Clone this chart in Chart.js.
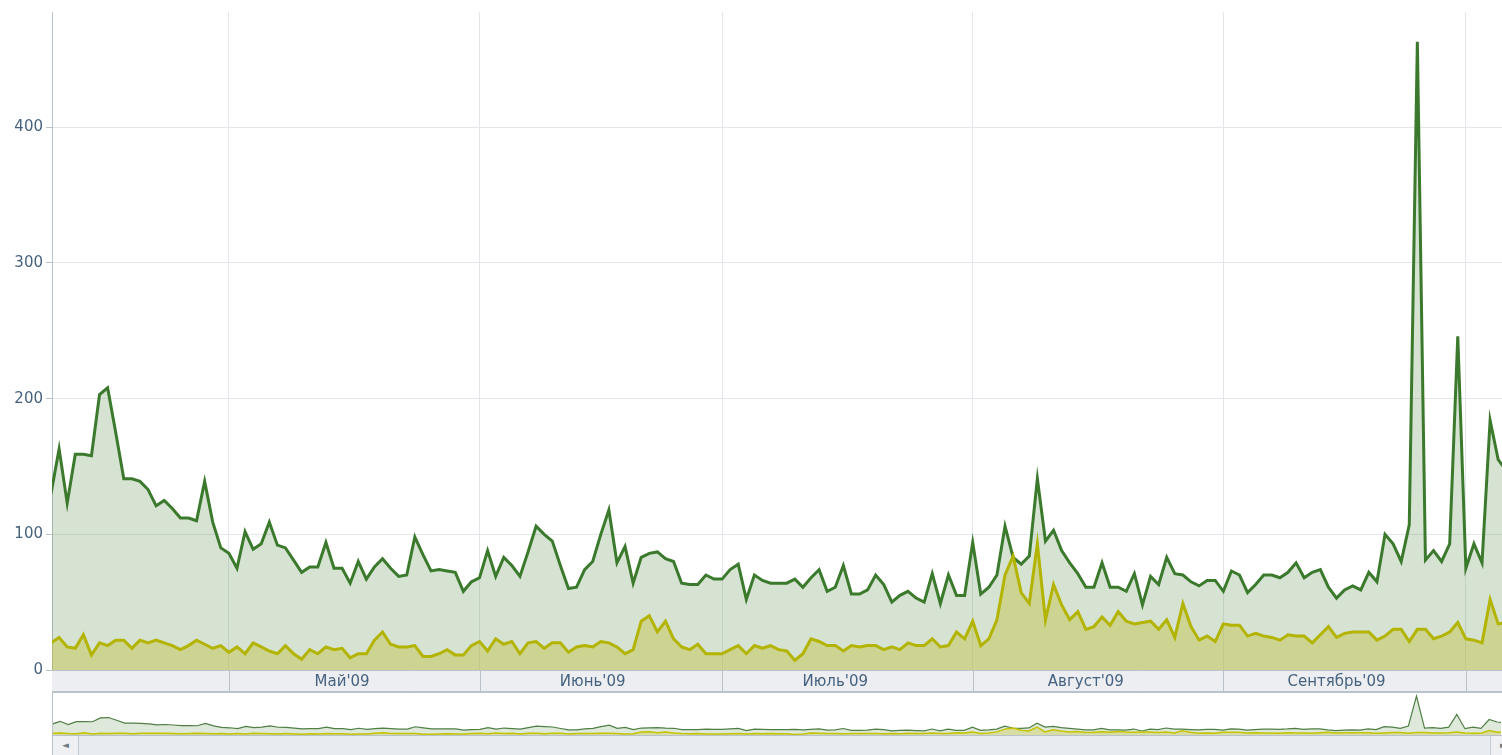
<!DOCTYPE html>
<html>
<head>
<meta charset="utf-8">
<script src="https://cdn.jsdelivr.net/npm/chart.js@4.4.1/dist/chart.umd.min.js"></script>
<style>
  html, body { margin: 0; padding: 0; background: #fff; overflow: hidden; }
  #wrap { position: relative; width: 1502px; height: 755px; }
  #main { position: absolute; left: 0; top: 0; }
  #nav { position: absolute; left: 52px; top: 692px; width: 1460px; height: 44px;
         box-sizing: border-box; border: 1px solid #b9c1ca; background: #fff; }
  #nav canvas { position: absolute; left: 0; top: 0; }
  #scroll { position: absolute; left: 52px; top: 736px; width: 1460px; height: 19px;
            box-sizing: border-box; background: #e8ebef; border-left: 1px solid #b9c1ca; }
  .btn { position: absolute; top: 0; width: 25px; height: 19px; font: 9px "DejaVu Sans", sans-serif;
         color: #6d7884; line-height: 19px; text-align: center; background: #eef0f3; }
  #btn-left { left: 0; border-right: 1px solid #c3c9d0; }
  #btn-right { left: 1437px; border-left: 1px solid #c3c9d0; }
</style>
</head>
<body>
<div id="wrap">
  <canvas id="main" width="1502" height="692"></canvas>
  <div id="nav"><canvas id="nav-chart" width="1448" height="42"></canvas></div>
  <div id="scroll"><div class="btn" id="btn-left">&#9668;</div><div class="btn" id="btn-right">&#9658;</div></div>
</div>
<script>
// Ежедневные значения, 9 апреля 2009 — 5 октября 2009
const START = '2009-04-09';

const greenValues = [
  130, 163, 123, 159, 159, 158, 203, 208, 175, 141, 141, 139, 133, 121, 125, 119, 112, 112, 110, 139, 109, 90, 86, 75,
  102, 89, 93, 109, 92, 90, 81, 72, 76, 76, 94, 75, 75, 64, 80, 67, 76, 82, 75, 69, 70, 98, 85, 73, 74, 73, 72, 58, 65, 68, 88,
  69, 83, 77, 69, 87, 106, 100, 95, 77, 60, 61, 74, 80, 100, 118, 79, 91, 64, 83, 86, 87, 82, 80, 64, 63, 63, 70, 67, 67, 74,
  78, 52, 70, 66, 64, 64, 64, 67, 61, 68, 74, 58, 61, 77, 56, 56, 59, 70, 63, 50, 55, 58, 53, 50, 71, 49, 70, 55, 55, 94, 56,
  61, 70, 106, 83, 78, 84, 141, 95, 103, 88, 79, 71, 61, 61, 79, 61, 61, 58, 71, 48, 69, 63, 83, 71, 70, 65, 62, 66, 66, 58,
  73, 70, 57, 63, 70, 70, 68, 72, 79, 68, 72, 74, 61, 53, 59, 62, 59, 72, 65, 100, 93, 80, 107, 463, 81, 88, 80, 93, 246, 75, 93, 79, 184, 155, 147,
];

const yellowValues = [
  20, 24, 17, 16, 26, 11, 20, 18, 22, 22, 16, 22, 20, 22, 20, 18, 15, 18, 22, 19, 16, 18, 13, 17,
  12, 20, 17, 14, 12, 18, 12, 8, 15, 12, 17, 15, 16, 9, 12, 12, 22, 28, 19, 17, 17, 18, 10, 10, 12, 15, 11, 11, 18, 21, 14,
  23, 19, 21, 12, 20, 21, 16, 20, 20, 13, 17, 18, 17, 21, 20, 17, 12, 15, 36, 40, 28, 36, 23, 17, 15, 19, 12, 12, 12, 15,
  18, 12, 18, 16, 18, 15, 14, 7, 12, 23, 21, 18, 18, 14, 18, 17, 18, 18, 15, 17, 15, 20, 18, 18, 23, 17, 18, 28, 23, 36, 18,
  23, 37, 70, 84, 57, 49, 93, 37, 63, 48, 37, 43, 30, 32, 39, 33, 43, 36, 34, 35, 36, 30, 37, 24, 49, 32, 22, 25, 21, 34,
  33, 33, 25, 27, 25, 24, 22, 26, 25, 25, 20, 26, 32, 24, 27, 28, 28, 28, 22, 25, 30, 30, 21, 30, 30, 23, 25, 28, 35, 23, 22, 20, 52, 34, 35,
];

const monthStarts = ['2009-05-01', '2009-06-01', '2009-07-01', '2009-08-01', '2009-09-01', '2009-10-01'];
const monthLabelDates = ['2009-05-15', '2009-06-15', '2009-07-15', '2009-08-15', '2009-09-15'];
const monthLabels = ["Май'09", "Июнь'09", "Июль'09", "Август'09", "Сентябрь'09"];
const yTicks = [0, 100, 200, 300, 400];

const COLORS = {
  green: '#3b7a2d',
  greenFill: 'rgba(120, 158, 105, 0.30)',
  yellow: '#b3b400',
  yellowFill: 'rgba(190, 190, 40, 0.38)',
  grid: '#e3e7eb',
  axis: '#b9c1ca',
  text: '#46627f',
  band: '#eceef2',
};

// видимый диапазон в днях от START
const X_MIN = 0.12;
const X_MAX = 179.47;

function dayIndex(iso) {
  return Math.round((Date.parse(iso) - Date.parse(START)) / 86400000);
}

const toPoints = arr => arr.map((v, i) => ({ x: i, y: v }));
const monthStartDays = monthStarts.map(dayIndex);
const monthLabelDays = monthLabelDates.map(dayIndex);

// полоса с месяцами под графиком
const monthBand = {
  id: 'monthBand',
  afterDraw(chart) {
    const { ctx, chartArea } = chart;
    const xs = chart.scales.x;
    const top = chartArea.bottom;
    const h = 22;
    ctx.save();
    ctx.fillStyle = COLORS.band;
    ctx.fillRect(chartArea.left, top, chart.width - chartArea.left, h);
    ctx.strokeStyle = COLORS.axis;
    ctx.lineWidth = 1;
    ctx.beginPath();
    ctx.moveTo(chartArea.left, top + 0.5);
    ctx.lineTo(chart.width, top + 0.5);
    ctx.moveTo(chartArea.left, top + h - 0.5);
    ctx.lineTo(chart.width, top + h - 0.5);
    monthStartDays.forEach(d => {
      const px = Math.round(xs.getPixelForValue(d)) + 0.5;
      ctx.moveTo(px, top);
      ctx.lineTo(px, top + h);
    });
    ctx.stroke();
    ctx.fillStyle = COLORS.text;
    ctx.font = '15px "DejaVu Sans", sans-serif';
    ctx.textAlign = 'center';
    ctx.textBaseline = 'middle';
    monthLabelDays.forEach((d, i) => {
      ctx.fillText(monthLabels[i], xs.getPixelForValue(d), top + h / 2 + 1);
    });
    ctx.restore();
  },
};

new Chart(document.getElementById('main'), {
  type: 'line',
  data: {
    datasets: [
      {
        data: toPoints(yellowValues),
        borderColor: COLORS.yellow,
        backgroundColor: COLORS.yellowFill,
        borderWidth: 3,
        fill: 'origin',
        pointRadius: 0,
        tension: 0,
        order: 0,
      },
      {
        data: toPoints(greenValues),
        borderColor: COLORS.green,
        backgroundColor: COLORS.greenFill,
        borderWidth: 3,
        fill: 'origin',
        pointRadius: 0,
        tension: 0,
        order: 1,
      },
    ],
  },
  options: {
    responsive: false,
    animation: false,
    devicePixelRatio: 1,
    layout: { padding: { top: 12, right: 0, bottom: 0, left: 0 } },
    plugins: { legend: { display: false }, tooltip: { enabled: false } },
    scales: {
      x: {
        type: 'linear',
        min: X_MIN,
        max: X_MAX,
        afterBuildTicks: axis => { axis.ticks = monthStartDays.map(v => ({ value: v })); },
        afterFit: axis => { axis.height = 22; },
        ticks: { display: false },
        grid: { color: COLORS.grid, drawTicks: false },
        border: { display: false },
      },
      y: {
        min: 0,
        max: 485,
        afterBuildTicks: axis => { axis.ticks = yTicks.map(v => ({ value: v })); },
        afterFit: axis => { axis.width = 52; },
        ticks: {
          color: COLORS.text,
          font: { family: '"DejaVu Sans", sans-serif', size: 15 },
          padding: 3,
        },
        grid: { color: COLORS.grid, tickLength: 6, tickColor: COLORS.axis },
        border: { color: COLORS.axis },
      },
    },
  },
  plugins: [monthBand],
});

// навигатор внизу
new Chart(document.getElementById('nav-chart'), {
  type: 'line',
  data: {
    datasets: [
      {
        data: toPoints(yellowValues),
        borderColor: '#c4c300',
        backgroundColor: 'rgba(200, 200, 60, 0.35)',
        borderWidth: 1.5,
        fill: 'origin',
        pointRadius: 0,
        order: 0,
      },
      {
        data: toPoints(greenValues),
        borderColor: '#4f7f45',
        backgroundColor: 'rgba(140, 175, 125, 0.28)',
        borderWidth: 1.2,
        fill: 'origin',
        pointRadius: 0,
        order: 1,
      },
    ],
  },
  options: {
    responsive: false,
    animation: false,
    devicePixelRatio: 1,
    layout: { padding: 0 },
    plugins: { legend: { display: false }, tooltip: { enabled: false } },
    scales: {
      x: { type: 'linear', min: X_MIN, max: X_MAX, display: false },
      y: { min: 0, max: 500, display: false },
    },
  },
});
</script>
</body>
</html>
